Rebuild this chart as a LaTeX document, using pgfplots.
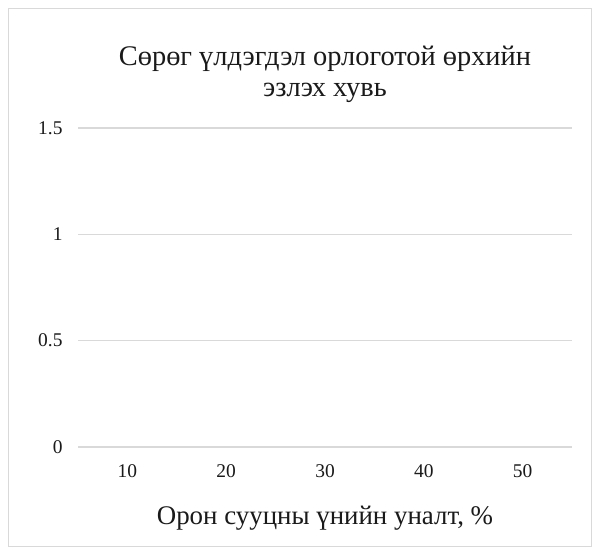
\documentclass[border=0pt]{standalone}
\usepackage{fontspec}
\setmainfont{Liberation Serif}
\usepackage{pgfplots}
\pgfplotsset{compat=1.18}
\definecolor{gridc}{HTML}{D9D9D9}
\definecolor{txt}{HTML}{1A1A1A}
\begin{document}
\begin{tikzpicture}[x=1bp,y=1bp]
\fill[white] (0,0) rectangle (600,555);
\draw[gridc, line width=1.2bp] (8.5,8.5) rectangle (591.5,546.5);
\begin{axis}[
  at={(78bp,108bp)}, anchor=south west,
  scale only axis, width=494bp, height=319bp,
  xmin=-0.5, xmax=4.5, ymin=0, ymax=1.5,
  axis line style={draw=none},
  major tick length=0pt,
  ymajorgrids, grid style={gridc, line width=1.2bp},
  xtick={0,1,2,3,4}, xticklabels={10,20,30,40,50},
  ytick={0,0.5,1,1.5}, yticklabels={0,0.5,1,1.5},
  tick label style={font=\fontsize{19.5}{22}\selectfont, text=txt},
  yticklabel style={xshift=-12bp},
  xticklabel style={yshift=-14bp},
  /pgf/number format/assume math mode=true,
]
\addplot[draw=none, forget plot] coordinates {(0,0)};
\end{axis}
\node[align=center, font=\fontsize{28.5}{31}\selectfont, text=txt] at (325,481) {Сөрөг үлдэгдэл орлоготой өрхийн\\эзлэх хувь};
\node[font=\fontsize{27}{30}\selectfont, text=txt] at (325,37) {Орон сууцны үнийн уналт, \%};
\end{tikzpicture}
\end{document}
